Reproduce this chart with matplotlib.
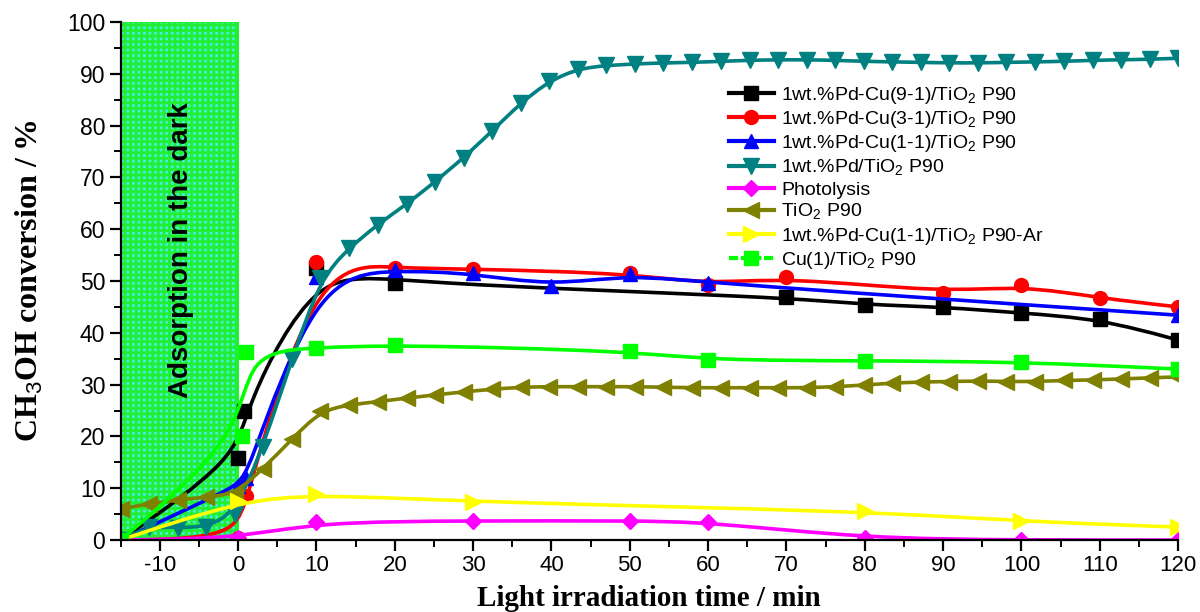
import numpy as np
import matplotlib
matplotlib.use("Agg")
import matplotlib.pyplot as plt
from matplotlib.path import Path
from matplotlib.patches import PathPatch
from matplotlib.lines import Line2D
from matplotlib import font_manager as fm

# ---------------- data ----------------
black_x = [-15, 0, 0.7, 10, 20, 70, 80, 90, 100, 110, 120]
black_y = [0, 15.8, 25.0, 52.5, 49.6, 46.9, 45.4, 45.0, 43.8, 42.7, 38.6]

red_x = [-15, 0, 1, 10, 20, 30, 50, 60, 70, 90, 100, 110, 120]
red_y = [0, 0.3, 8.5, 53.7, 52.5, 52.3, 51.5, 49.3, 50.8, 47.7, 49.2, 46.7, 45.0]

blue_x = [-15, 0, 1, 10, 20, 30, 40, 50, 60, 120]
blue_y = [0, 10.5, 12.0, 50.8, 52.1, 51.5, 49.0, 51.3, 49.6, 43.4]

teal_x = [-15.0, -11.4, -7.7, -4.1, -0.4, 3.2, 6.9, 10.5, 14.2, 17.8, 21.5, 25.1,
          28.8, 32.4, 36.1, 39.7, 43.4, 47.0, 50.7, 54.3, 58.0, 61.6, 65.3, 68.9,
          72.6, 76.2, 79.9, 83.5, 87.2, 90.8, 94.5, 98.1, 101.8, 105.4, 109.1,
          112.7, 116.4, 120.0]
teal_y = [0, 2.6, 2.4, 2.5, 5.0, 18.0, 35.0, 50.6, 56.4, 60.9, 64.8, 69.1,
          73.8, 78.9, 84.4, 88.6, 91.0, 91.6, 91.9, 92.1, 92.2, 92.4, 92.6, 92.7,
          92.7, 92.6, 92.4, 92.3, 92.2, 92.1, 92.1, 92.2, 92.3, 92.4, 92.6,
          92.7, 92.8, 93.0]

photo_x = [-15, 0, 10, 30, 50, 60, 80, 100, 120]
photo_y = [0, 0.3, 3.5, 3.7, 3.7, 3.5, 0.3, 0, 0]

tio2_x = teal_x
tio2_y = [6.0, 7.0, 7.7, 8.3, 8.8, 13.8, 19.5, 25.0, 26.1, 26.7, 27.4, 28.0,
          28.6, 29.1, 29.5, 29.6, 29.6, 29.6, 29.6, 29.5, 29.4, 29.4, 29.4, 29.4,
          29.4, 29.6, 29.9, 30.3, 30.5, 30.6, 30.7, 30.6, 30.6, 30.8, 30.9,
          31.1, 31.3, 31.5]

ar_x = [-15, 0, 10, 30, 80, 100, 120]
ar_y = [0, 7.5, 8.9, 7.3, 5.6, 3.6, 2.5]

cu_x = [-15, 0.5, 1, 10, 20, 50, 60, 80, 100, 120]
cu_y = [0, 20.0, 36.3, 37.1, 37.7, 36.5, 34.7, 34.6, 34.4, 33.0]

labels = ["1wt.%Pd-Cu(9-1)/TiO$_2$ P90", "1wt.%Pd-Cu(3-1)/TiO$_2$ P90",
          "1wt.%Pd-Cu(1-1)/TiO$_2$ P90", "1wt.%Pd/TiO$_2$ P90", "Photolysis",
          "TiO$_2$ P90", "1wt.%Pd-Cu(1-1)/TiO$_2$ P90-Ar", "Cu(1)/TiO$_2$ P90"]
x_ticks = [-10, 0, 10, 20, 30, 40, 50, 60, 70, 80, 90, 100, 110, 120]
y_ticks = [0, 10, 20, 30, 40, 50, 60, 70, 80, 90, 100]

# ---------------- helpers ----------------
def bspline_path(x, y):
    P = np.column_stack([x, y]).astype(float)
    Q = np.vstack([P[0], P[0], P, P[-1], P[-1]])
    verts = []
    codes = []
    for i in range(len(Q) - 3):
        q0, q1, q2, q3 = Q[i], Q[i + 1], Q[i + 2], Q[i + 3]
        b0 = (q0 + 4 * q1 + q2) / 6
        b1 = (2 * q1 + q2) / 3
        b2 = (q1 + 2 * q2) / 3
        b3 = (q1 + 4 * q2 + q3) / 6
        if i == 0:
            verts.append(b0)
            codes.append(Path.MOVETO)
        verts += [b1, b2, b3]
        codes += [Path.CURVE4] * 3
    return Path(np.array(verts), codes)

names = {f.name for f in fm.fontManager.ttflist}
narrow = "Liberation Sans Narrow" if "Liberation Sans Narrow" in names else "Liberation Sans"

plt.rcParams["font.family"] = ["Liberation Sans", "DejaVu Sans"]
plt.rcParams["mathtext.fontset"] = "custom"
plt.rcParams["mathtext.rm"] = "Liberation Sans"
plt.rcParams["hatch.linewidth"] = 2.0
plt.rcParams["axes.unicode_minus"] = False

fig = plt.figure(figsize=(12, 6.12), dpi=100)
ax = fig.add_axes([0.1005, 0.1176, 0.8812, 0.8465])
ax.set_xlim(-15, 120)
ax.set_ylim(0, 100)

# dark adsorption region
ax.axvspan(-15, 0, facecolor="#44eedd", edgecolor="#22ee33", hatch="+++",
           linewidth=1.5, zorder=0)
ax.text(-7.3, 56, "Adsorption in the dark", rotation=90, ha="center", va="center",
        fontsize=20, fontweight="bold", family=[narrow, "DejaVu Sans"], zorder=1)

series = [
    (black_x, black_y, "#000000", "s", 9.5),
    (red_x, red_y, "#ff0000", "o", 10),
    (blue_x, blue_y, "#0000ff", "^", 10.5),
    (teal_x, teal_y, "#008080", "v", 11),
    (photo_x, photo_y, "#ff00ff", "D", 8.5),
    (tio2_x, tio2_y, "#808000", "<", 11),
    (ar_x, ar_y, "#ffff00", ">", 11),
    (cu_x, cu_y, "#00ff00", "s", 9.5),
]

handles = []
for k, (xs, ys, col, mk, ms) in enumerate(series):
    z = 3 + k
    patch = PathPatch(bspline_path(xs, ys), fill=False, edgecolor=col, lw=2.6,
                      zorder=z, transform=ax.transData)
    ax.add_patch(patch)
    ax.plot(xs, ys, linestyle="none", marker=mk, ms=ms, color=col,
            markeredgecolor=col, zorder=z)
    handles.append(Line2D([], [], color=col, lw=3, marker=mk, ms=ms,
                          linestyle=(0, (2.2, 0.6)) if k == 7 else "-"))

leg = ax.legend(handles, labels, loc="upper left", bbox_to_anchor=(0.566, 0.898),
                frameon=False, fontsize=14, handlelength=2.3, handletextpad=0.4,
                labelspacing=0.17, borderpad=0)
leg.set_zorder(30)

# axes styling
for s in ["top", "right"]:
    ax.spines[s].set_visible(False)
for s in ["left", "bottom"]:
    ax.spines[s].set_linewidth(1.6)
    ax.spines[s].set_zorder(20)

ax.set_xticks(x_ticks)
ax.set_xticks(np.arange(-15, 121, 5), minor=True)
ax.set_yticks(y_ticks)
ax.set_yticks(np.arange(0, 101, 5), minor=True)
ax.tick_params(which="major", direction="out", length=8, width=1.6)
ax.tick_params(which="minor", direction="out", length=5, width=1.4)
ax.tick_params(axis="y", labelsize=16.5, pad=3)
ax.tick_params(axis="x", labelsize=16, pad=3)
for t in ax.get_xticklabels():
    t.set_family([narrow, "DejaVu Sans"])

ax.set_ylabel("CH$_3$OH conversion / %", fontsize=23, fontweight="bold",
              family=["Liberation Serif", "DejaVu Serif"], labelpad=16)
ax.set_xlabel("Light irradiation time / min", fontsize=21, fontweight="bold",
              family=["Liberation Serif", "DejaVu Serif"], labelpad=6)

fig.savefig("out.png", dpi=100)
